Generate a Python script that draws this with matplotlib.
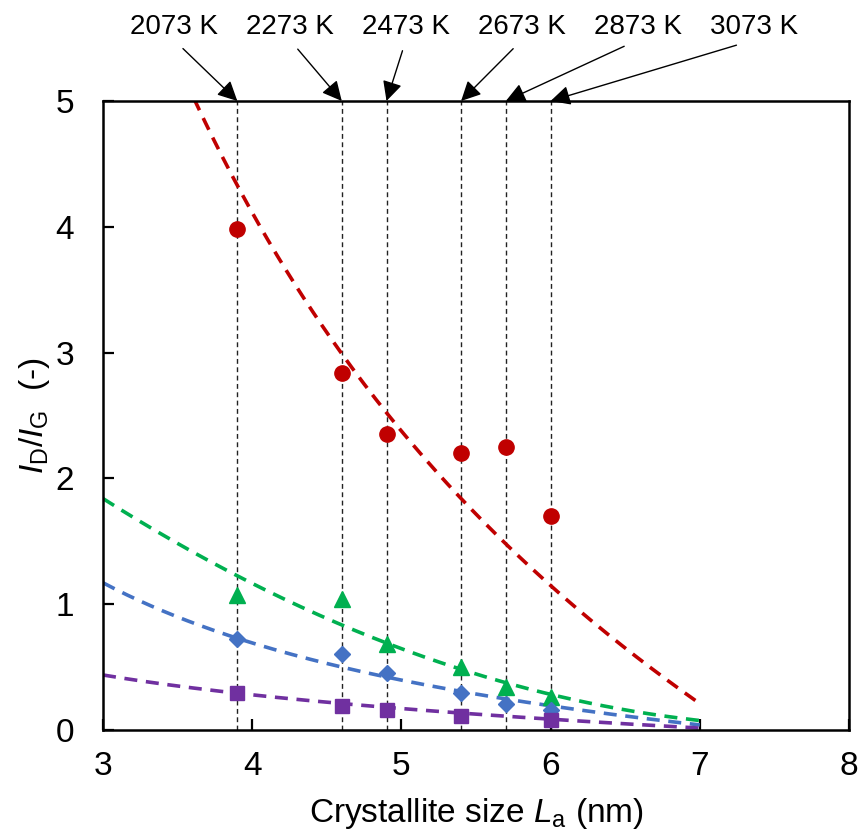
import matplotlib
matplotlib.use("Agg")
import matplotlib.pyplot as plt
import numpy as np

plt.rcParams['font.family'] = ['Liberation Sans', 'DejaVu Sans']
plt.rcParams['mathtext.fontset'] = 'custom'
plt.rcParams['mathtext.rm'] = 'Liberation Sans'
plt.rcParams['mathtext.it'] = 'Liberation Sans:italic'

# crystallite size La (nm) of each heat-treatment temperature
la_nm = [3.9, 4.6, 4.9, 5.4, 5.7, 6.0]
temps = ['2073 K', '2273 K', '2473 K', '2673 K', '2873 K', '3073 K']

# ID/IG ratios
red_vals = [3.98, 2.84, 2.35, 2.20, 2.25, 1.70]
green_vals = [1.07, 1.04, 0.68, 0.50, 0.34, 0.26]
blue_vals = [0.72, 0.60, 0.45, 0.29, 0.21, 0.16]
purple_vals = [0.29, 0.19, 0.16, 0.11, np.nan, 0.08]

# trend lines: y = a/x + b + c*x + d*x^2
red_fit = [30.46, -2.651, -0.213, 0.0]
green_fit = [0.0, 4.796, -1.219, 0.0778]
blue_fit = [5.484, -0.5939, -0.02137, 0.0]
purple_fit = [1.464, 0.0564, -0.0358, 0.0]


def trend(coef, x):
    a, b, c, d = coef
    return a / x + b + c * x + d * x ** 2


fig = plt.figure(figsize=(8.63, 8.40), dpi=100)
ax = fig.add_axes([0.1194, 0.1310, 0.8644, 0.7488])

# dashed guides at each temperature
for x in la_nm:
    ax.axvline(x, color='#222222', lw=1.0, ls=(0, (3.5, 2.5)), zorder=1)

xs = np.linspace(3, 7, 200)
series = [
    (red_vals, red_fit, '#C00000', 'o', 11),
    (green_vals, green_fit, '#00B050', '^', 11),
    (blue_vals, blue_fit, '#4472C4', 'D', 8),
    (purple_vals, purple_fit, '#7030A0', 's', 10),
]
for vals, fit, col, mk, ms in series:
    ax.plot(xs, trend(fit, xs), color=col, lw=2.6, ls=(0, (3.6, 2.4)), zorder=2)
    ax.plot(la_nm, vals, ls='none', marker=mk, ms=ms, color=col, zorder=3)

ax.set_xlim(3, 8)
ax.set_ylim(0, 5)
ax.set_xticks([3, 4, 5, 6, 7, 8])
ax.set_yticks([0, 1, 2, 3, 4, 5])
ax.tick_params(axis='both', direction='in', length=8, width=1.6, labelsize=24)
ax.tick_params(axis='x', pad=15)
ax.tick_params(axis='y', pad=21)
for s in ax.spines.values():
    s.set_linewidth(1.8)

ax.set_xlabel(r'Crystallite size $\mathit{L}_{\mathrm{a}}$ (nm)', fontsize=24)
ax.xaxis.set_label_coords(0.5, -0.105)
ax.set_ylabel(r'$\mathit{I}_{\mathrm{D}}/\mathit{I}_{\mathrm{G}}$  (-)', fontsize=24)
ax.yaxis.set_label_coords(-0.068, 0.5)

# temperature labels with arrows to the guides
for i, (x, t) in enumerate(zip(la_nm, temps)):
    ax.annotate(t, xy=(x, 5), xycoords='data',
                xytext=(3.476 + i * 0.777, 5.588), textcoords='data',
                ha='center', va='center', fontsize=20, annotation_clip=False,
                arrowprops=dict(arrowstyle='-|>,head_length=0.8,head_width=0.4',
                                mutation_scale=15, color='black', lw=1.0,
                                shrinkA=6, shrinkB=0, relpos=(0.5, 0)))

fig.savefig('out.png', dpi=100)
